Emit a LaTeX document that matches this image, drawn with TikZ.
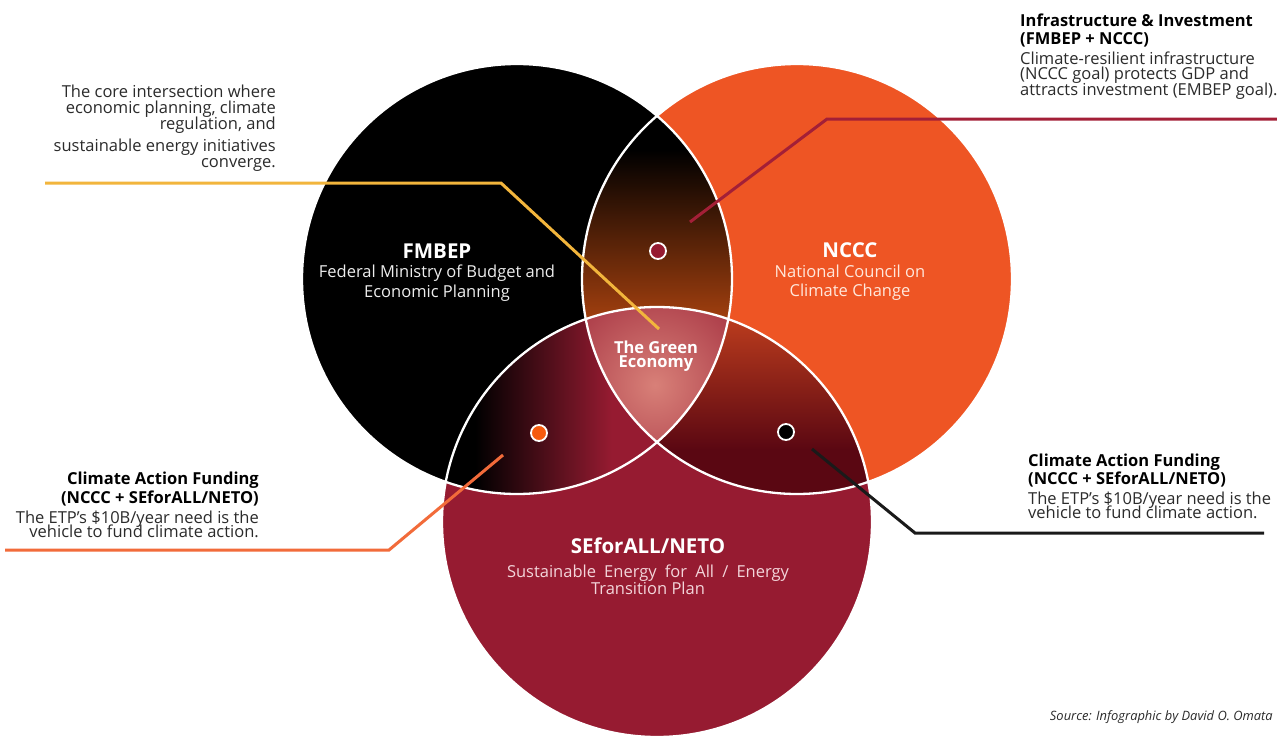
\documentclass[tikz,border=0pt]{standalone}
\usepackage{fontspec}
\setmainfont{Open Sans}
\usetikzlibrary{calc}

\definecolor{vblack}{HTML}{000000}
\definecolor{vorange}{HTML}{EE5524}
\definecolor{vcrimson}{HTML}{961B31}
\definecolor{lensABbot}{HTML}{B04510}
\definecolor{lensBCtop}{HTML}{C8431F}
\definecolor{lensBCbot}{HTML}{5A0712}
\definecolor{corepink}{HTML}{D88078}
\definecolor{dotorange}{HTML}{F65A0E}
\definecolor{lyellow}{HTML}{F2B53C}
\definecolor{lred}{HTML}{A31F37}
\definecolor{lorange}{HTML}{F26B3A}
\definecolor{lblack}{HTML}{1A1A1A}
\definecolor{notegrey}{HTML}{2B2B2B}
\definecolor{fmbody}{HTML}{EDEDED}
\definecolor{ncbody}{HTML}{FFE8DC}
\definecolor{sebody}{HTML}{F3D5DA}

\tikzset{
  ring/.style={draw=white, line width=2.3pt},
  circtitle/.style={font=\bfseries\fontsize{20.5}{24}\selectfont, text=white, anchor=base, inner sep=0pt},
  circbody/.style={font=\fontsize{16.5}{20}\selectfont, anchor=base, inner sep=0pt},
  corelbl/.style={font=\bfseries\fontsize{16.5}{20}\selectfont, text=white, anchor=base, inner sep=0pt},
  notebody/.style={font=\fontsize{16.5}{20}\selectfont, text=notegrey, inner sep=0pt},
  notehead/.style={font=\bfseries\fontsize{16.5}{20}\selectfont, text=black, inner sep=0pt},
  leader/.style={line width=3pt},
  marker/.style={circle, draw=white, line width=1.8pt, minimum size=16pt, inner sep=0pt},
}

\begin{document}
\begin{tikzpicture}[x=1pt,y=-1pt]
\useasboundingbox (0,0) rectangle (1277,736);
\fill[white] (0,0) rectangle (1277,736);

% circle centres
\coordinate (cA) at (517,279);
\coordinate (cB) at (797,279);
\coordinate (cC) at (657,522);

% base discs
\fill[vblack] (cA) circle[radius=215pt];
\fill[vorange] (cB) circle[radius=215pt];
\fill[vcrimson] (cC) circle[radius=215pt];

% FMBEP / NCCC overlap
\begin{scope}
  \clip (cA) circle[radius=215pt];
  \clip (cB) circle[radius=215pt];
  \fill[lensABbot] (560,100) rectangle (760,460);
  \shade[top color=black, bottom color=lensABbot] (560,150) rectangle (760,335);
  \fill[black] (560,100) rectangle (760,150);
\end{scope}

% FMBEP / SEforALL overlap
\begin{scope}
  \clip (cA) circle[radius=215pt];
  \clip (cC) circle[radius=215pt];
  \fill[black] (420,290) rectangle (476,500);
  \shade[left color=black, right color=vcrimson] (475,290) rectangle (612,500);
\end{scope}

% NCCC / SEforALL overlap
\begin{scope}
  \clip (cB) circle[radius=215pt];
  \clip (cC) circle[radius=215pt];
  \shade[top color=lensBCtop, bottom color=lensBCbot] (640,300) rectangle (880,450);
  \fill[lensBCbot] (640,449) rectangle (880,500);
\end{scope}

% common core
\begin{scope}
  \clip (cA) circle[radius=215pt];
  \clip (cB) circle[radius=215pt];
  \clip (cC) circle[radius=215pt];
  \fill[vcrimson] (570,290) rectangle (750,460);
  \shade[inner color=corepink, outer color=vcrimson] (655,385) circle[radius=150pt];
\end{scope}

% white outlines
\draw[ring] (cA) circle[radius=215pt];
\draw[ring] (cB) circle[radius=215pt];
\draw[ring] (cC) circle[radius=215pt];

% leader lines
\coordinate (y0) at (45,183);
\coordinate (y1) at (501,183);
\coordinate (y2) at (659,329);
\draw[leader, lyellow] (y0) -- (y1) -- (y2);

\coordinate (r0) at (1277,119);
\coordinate (r1) at (827,119);
\coordinate (r2) at (690,222);
\draw[leader, lred] (r0) -- (r1) -- (r2);

\coordinate (o0) at (5,550);
\coordinate (o1) at (389,550);
\coordinate (o2) at (503,455);
\draw[leader, lorange] (o0) -- (o1) -- (o2);

\coordinate (k0) at (812,449);
\coordinate (k1) at (915,533);
\coordinate (k2) at (1264,533);
\draw[leader, lblack] (k0) -- (k1) -- (k2);

% overlap markers
\node[marker, fill=vcrimson] (dAB) at (658,251) {};
\node[marker, fill=dotorange] (dAC) at (539,433) {};
\node[marker, fill=black] (dBC) at (786,432) {};

% circle labels
\node[circtitle] (fmT) at (437,258) {FMBEP};
\node[circbody, text=fmbody] (fm1) at (437,277) {Federal Ministry of Budget and};
\node[circbody, text=fmbody] (fm2) at (437,297) {Economic Planning};

\node[circtitle] (ncT) at (850,257) {NCCC};
\node[circbody, text=ncbody] (nc1) at (850,277) {National Council on};
\node[circbody, text=ncbody] (nc2) at (850,296) {Climate Change};

\node[circtitle] (seT) at (648,553) {SEforALL/NETO};
\node[circbody, text=sebody] (se1) at (648,577)
  {\hbox to 282pt{Sustainable\hfill Energy\hfill for\hfill All\hfill /\hfill Energy}};
\node[circbody, text=sebody] (se2) at (648,594) {Transition Plan};

\node[corelbl] (ge1) at (656,353) {The Green};
\node[corelbl] (ge2) at (656,367) {Economy};

% annotation: core
\node[notebody, anchor=base east] (tl1) at (276,97) {The core intersection where};
\node[notebody, anchor=base east] (tl2) at (276,113) {economic planning, climate};
\node[notebody, anchor=base east] (tl3) at (276,129) {regulation, and};
\node[notebody, anchor=base east] (tl4) at (276,151) {sustainable energy initiatives};
\node[notebody, anchor=base east] (tl5) at (276,167) {converge.};

% annotation: infrastructure
\node[notehead, anchor=base west] (tr1) at (1020,27) {Infrastructure \& Investment};
\node[notehead, anchor=base west] (tr2) at (1020,44) {(FMBEP + NCCC)};
\node[notebody, anchor=base west] (tr3) at (1020,64) {Climate-resilient infrastructure};
\node[notebody, anchor=base west] (tr4) at (1020,79) {(NCCC goal) protects GDP and};
\node[notebody, anchor=base west] (tr5) at (1020,95) {attracts investment (EMBEP goal).};

% annotation: climate funding, left
\node[notehead, anchor=base east] (bl1) at (259,484) {Climate Action Funding};
\node[notehead, anchor=base east] (bl2) at (259,503) {(NCCC + SEforALL/NETO)};
\node[notebody, anchor=base east] (bl3) at (259,523) {The ETP's \$10B/year need is the};
\node[notebody, anchor=base east] (bl4) at (259,537) {vehicle to fund climate action.};

% annotation: climate funding, right
\node[notehead, anchor=base west] (br1) at (1028,466) {Climate Action Funding};
\node[notehead, anchor=base west] (br2) at (1028,484) {(NCCC + SEforALL/NETO)};
\node[notebody, anchor=base west] (br3) at (1028,504) {The ETP's \$10B/year need is the};
\node[notebody, anchor=base west] (br4) at (1028,518) {vehicle to fund climate action.};

% source line
\node[font=\itshape\fontsize{12.9}{15}\selectfont, text=notegrey, anchor=base east, inner sep=0pt] (src) at (1273,720) {Source: Infographic by David O. Omata};
\end{tikzpicture}
\end{document}
